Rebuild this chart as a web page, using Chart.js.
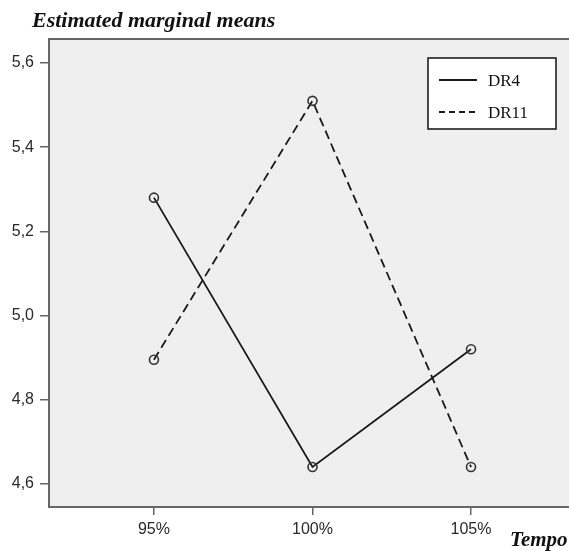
<!DOCTYPE html>
<html>
<head>
<meta charset="utf-8">
<title>Estimated marginal means</title>
<script src="https://cdn.jsdelivr.net/npm/chart.js@4/dist/chart.umd.min.js"></script>
<style>
    html, body { margin: 0; padding: 0; background: #fff; overflow: hidden; }
    #wrap { width: 569px; height: 551px; }
</style>
</head>
<body>
<div id="wrap"><canvas id="means-chart" width="569" height="551"></canvas></div>
<script>
// Estimated marginal means by Tempo, two DR groups

const tempoValues = [95, 100, 105];
const tempoLabels = ['95%', '100%', '105%'];
const dr4Means = [5.28, 4.64, 4.92];
const dr11Means = [4.895, 5.51, 4.64];
const yTicks = [4.6, 4.8, 5.0, 5.2, 5.4, 5.6];

const axisColor = '#666';
const tickFont = { family: '"Liberation Sans", Arial, sans-serif', size: 16 };

/**
 * Plot background, top border, title, axis name and boxed legend
 */
const spssFrame = {
    id: 'spssFrame',
    beforeDraw(chart) {
        const { ctx, chartArea: a } = chart;
        ctx.save();
        ctx.fillStyle = '#efefef';
        ctx.fillRect(a.left, a.top, a.right - a.left, a.bottom - a.top);
        ctx.restore();
    },
    afterDraw(chart) {
        const { ctx, chartArea: a } = chart;
        ctx.save();
        // top border
        ctx.strokeStyle = axisColor;
        ctx.lineWidth = 2;
        ctx.beginPath();
        ctx.moveTo(a.left - 1, a.top);
        ctx.lineTo(a.right, a.top);
        ctx.stroke();

        // title + axis name
        ctx.fillStyle = '#111';
        ctx.font = 'italic bold 22px "Liberation Serif", "Times New Roman", serif';
        ctx.textBaseline = 'alphabetic';
        ctx.textAlign = 'left';
        ctx.fillText('Estimated marginal means', 32, 27);
        ctx.font = 'italic bold 21px "Liberation Serif", "Times New Roman", serif';
        ctx.fillText('Tempo', 510, 546);

        // legend box
        const bx = a.right - 141, by = a.top + 19, bw = 128, bh = 71;
        ctx.fillStyle = '#fff';
        ctx.fillRect(bx, by, bw, bh);
        ctx.strokeStyle = '#111';
        ctx.lineWidth = 1.5;
        ctx.strokeRect(bx, by, bw, bh);
        ctx.font = '17px "Liberation Serif", "Times New Roman", serif';
        chart.data.datasets.forEach((ds, i) => {
            const y = by + 22 + i * 32;
            ctx.strokeStyle = ds.borderColor;
            ctx.lineWidth = 2;
            ctx.setLineDash(ds.borderDash ? [6, 4] : []);
            ctx.beginPath();
            ctx.moveTo(bx + 11, y);
            ctx.lineTo(bx + 49, y);
            ctx.stroke();
            ctx.setLineDash([]);
            ctx.fillStyle = '#111';
            ctx.fillText(ds.label, bx + 60, y + 6);
        });
        ctx.restore();
    }
};

function setTicks(values) {
    return function (scale) {
        scale.ticks = values.map(v => ({ value: v }));
    };
}

const ctx = document.getElementById('means-chart');
new Chart(ctx, {
    type: 'line',
    data: {
        datasets: [{
            label: 'DR4',
            data: tempoValues.map((t, i) => ({ x: t, y: dr4Means[i] })),
            borderColor: '#1a1a1a',
            borderWidth: 1.8,
            pointRadius: 4.5,
            pointBorderWidth: 1.6,
            pointBorderColor: '#333',
            pointBackgroundColor: 'rgba(0,0,0,0)',
            tension: 0
        }, {
            label: 'DR11',
            data: tempoValues.map((t, i) => ({ x: t, y: dr11Means[i] })),
            borderColor: '#1a1a1a',
            borderWidth: 1.8,
            borderDash: [9, 5],
            pointRadius: 4.5,
            pointBorderWidth: 1.6,
            pointBorderColor: '#333',
            pointBackgroundColor: 'rgba(0,0,0,0)',
            tension: 0
        }]
    },
    options: {
        responsive: false,
        animation: false,
        devicePixelRatio: 1,
        layout: { autoPadding: false, padding: { top: 39, left: 0, right: 0, bottom: 0 } },
        scales: {
            x: {
                type: 'linear',
                min: 91.69,
                max: 108.09,
                afterBuildTicks: setTicks(tempoValues),
                afterFit: function (scale) {
                    scale.height = 44;
                    scale.paddingLeft = 0;
                    scale.paddingRight = 0;
                },
                border: { color: axisColor, width: 2 },
                grid: { drawOnChartArea: false, drawTicks: true, tickLength: 8, color: axisColor, lineWidth: 1.5 },
                ticks: {
                    color: '#2a2a2a',
                    font: tickFont,
                    padding: 5,
                    maxRotation: 0,
                    callback: function (value) {
                        return tempoLabels[tempoValues.indexOf(value)];
                    }
                }
            },
            y: {
                min: 4.545,
                max: 5.657,
                afterBuildTicks: setTicks(yTicks),
                afterFit: function (scale) {
                    scale.width = 49;
                    scale.paddingTop = 0;
                    scale.paddingBottom = 0;
                },
                border: { color: axisColor, width: 2 },
                grid: { drawOnChartArea: false, drawTicks: true, tickLength: 9, color: axisColor, lineWidth: 1.5 },
                ticks: {
                    color: '#2a2a2a',
                    font: tickFont,
                    padding: 6,
                    callback: function (value) {
                        return value.toFixed(1).replace('.', ',');
                    }
                }
            }
        },
        plugins: {
            legend: { display: false },
            tooltip: { enabled: false }
        }
    },
    plugins: [spssFrame]
});
</script>
</body>
</html>
